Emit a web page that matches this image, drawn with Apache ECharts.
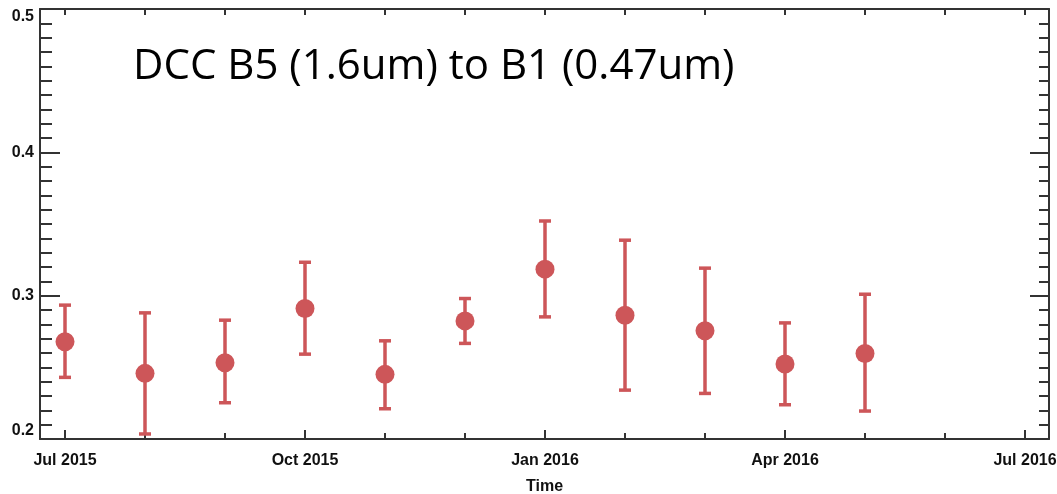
<!DOCTYPE html>
<html>
<head>
<meta charset="utf-8">
<script src="https://cdn.jsdelivr.net/npm/echarts@6/dist/echarts.min.js"></script>
<style>
  html, body { margin: 0; padding: 0; background: #fff; }
  #chart { width: 1057px; height: 494px; }
</style>
</head>
<body>
<div id="chart"></div>
<script>
// months since Jul 2015
const months = [0, 1, 2, 3, 4, 5, 6, 7, 8, 9, 10];
const ratio = [0.2678, 0.2458, 0.2532, 0.2911, 0.2451, 0.2824, 0.3185, 0.2864, 0.2755, 0.2523, 0.2597];
const upper = [0.2934, 0.2880, 0.2829, 0.3233, 0.2685, 0.2980, 0.3521, 0.3387, 0.3192, 0.2810, 0.3010];
const lower = [0.2430, 0.2035, 0.2253, 0.2592, 0.2211, 0.2667, 0.2852, 0.2341, 0.2318, 0.2239, 0.2195];
const tickMonths = [0, 1, 2, 3, 4, 5, 6, 7, 8, 9, 10, 11, 12];
const labelMonths = [0, 3, 6, 9, 12];
const labelNames = { 0: "Jul 2015", 3: "Oct 2015", 6: "Jan 2016", 9: "Apr 2016", 12: "Jul 2016" };

const RED = "#cd5659";
const AXIS = "#333";
const FONT = "Liberation Sans";

const chart = echarts.init(document.getElementById("chart"));

const xBase = { type: "value", min: -0.3125, max: 12.3, splitLine: { show: false } };
const yBase = { type: "value", min: 0.2, max: 0.5, interval: 0.1, splitLine: { show: false } };
const line = { show: true, onZero: false, lineStyle: { color: AXIS, width: 2 } };

chart.setOption({
    animation: false,
    grid: { left: 40, right: 8, top: 9, bottom: 55, outerBoundsMode: "none" },
    graphic: [{
        type: "text", left: 133, top: 46,
        style: { text: "DCC B5 (1.6um) to B1 (0.47um)", font: "42px 'Open Sans'", fill: "#000" }
    }],
    xAxis: [
        {
            ...xBase, position: "bottom", axisLine: line,
            axisTick: { show: true, inside: true, length: 6, customValues: tickMonths, lineStyle: { color: AXIS, width: 2 } },
            axisLabel: {
                customValues: labelMonths, formatter: v => labelNames[v] || "",
                color: "#111", fontFamily: FONT, fontWeight: "bold", fontSize: 16, margin: 14
            },
            name: "Time", nameLocation: "middle", nameGap: 40,
            nameTextStyle: { color: "#111", fontFamily: FONT, fontWeight: "bold", fontSize: 16 }
        },
        {
            ...xBase, position: "bottom", offset: 0,
            axisLine: { show: false, onZero: false },
            axisTick: { show: true, inside: true, length: 9, customValues: labelMonths, lineStyle: { color: AXIS, width: 2 } },
            axisLabel: { show: false }
        },
        {
            ...xBase, position: "top", axisLine: line,
            axisTick: { show: true, inside: true, length: 6, customValues: tickMonths, lineStyle: { color: AXIS, width: 2 } },
            axisLabel: { show: false }
        }
    ],
    yAxis: [
        {
            ...yBase, position: "left", axisLine: line,
            axisTick: { show: true, inside: true, length: 20, lineStyle: { color: AXIS, width: 2 } },
            minorTick: { show: true, splitNumber: 10, length: 12, lineStyle: { color: AXIS, width: 2 } },
            axisLabel: {
                formatter: v => v.toFixed(1), color: "#111", fontFamily: FONT,
                fontWeight: "bold", fontSize: 16, margin: 6,
                verticalAlignMinLabel: "bottom", verticalAlignMaxLabel: "top"
            }
        },
        {
            ...yBase, position: "right", axisLine: line,
            axisTick: { show: true, inside: true, length: 19, lineStyle: { color: AXIS, width: 2 } },
            minorTick: { show: true, splitNumber: 10, length: 10, lineStyle: { color: AXIS, width: 2 } },
            axisLabel: { show: false }
        }
    ],
    series: [
        {
            type: "custom",
            xAxisIndex: 0, yAxisIndex: 0,
            data: months.map((m, i) => [m, lower[i], upper[i]]),
            renderItem: (params, api) => {
                const top = api.coord([api.value(0), api.value(2)]);
                const bot = api.coord([api.value(0), api.value(1)]);
                const w = 6;
                const style = { stroke: RED, lineWidth: 3.5 };
                return {
                    type: "group",
                    children: [
                        { type: "line", shape: { x1: top[0], y1: top[1], x2: bot[0], y2: bot[1] }, style },
                        { type: "line", shape: { x1: top[0] - w, y1: top[1], x2: top[0] + w, y2: top[1] }, style },
                        { type: "line", shape: { x1: bot[0] - w, y1: bot[1], x2: bot[0] + w, y2: bot[1] }, style }
                    ]
                };
            },
            z: 2
        },
        {
            type: "scatter",
            xAxisIndex: 0, yAxisIndex: 0,
            data: months.map((m, i) => [m, ratio[i]]),
            symbol: "circle", symbolSize: 19,
            itemStyle: { color: RED, opacity: 1 },
            z: 3
        }
    ]
});
</script>
</body>
</html>
